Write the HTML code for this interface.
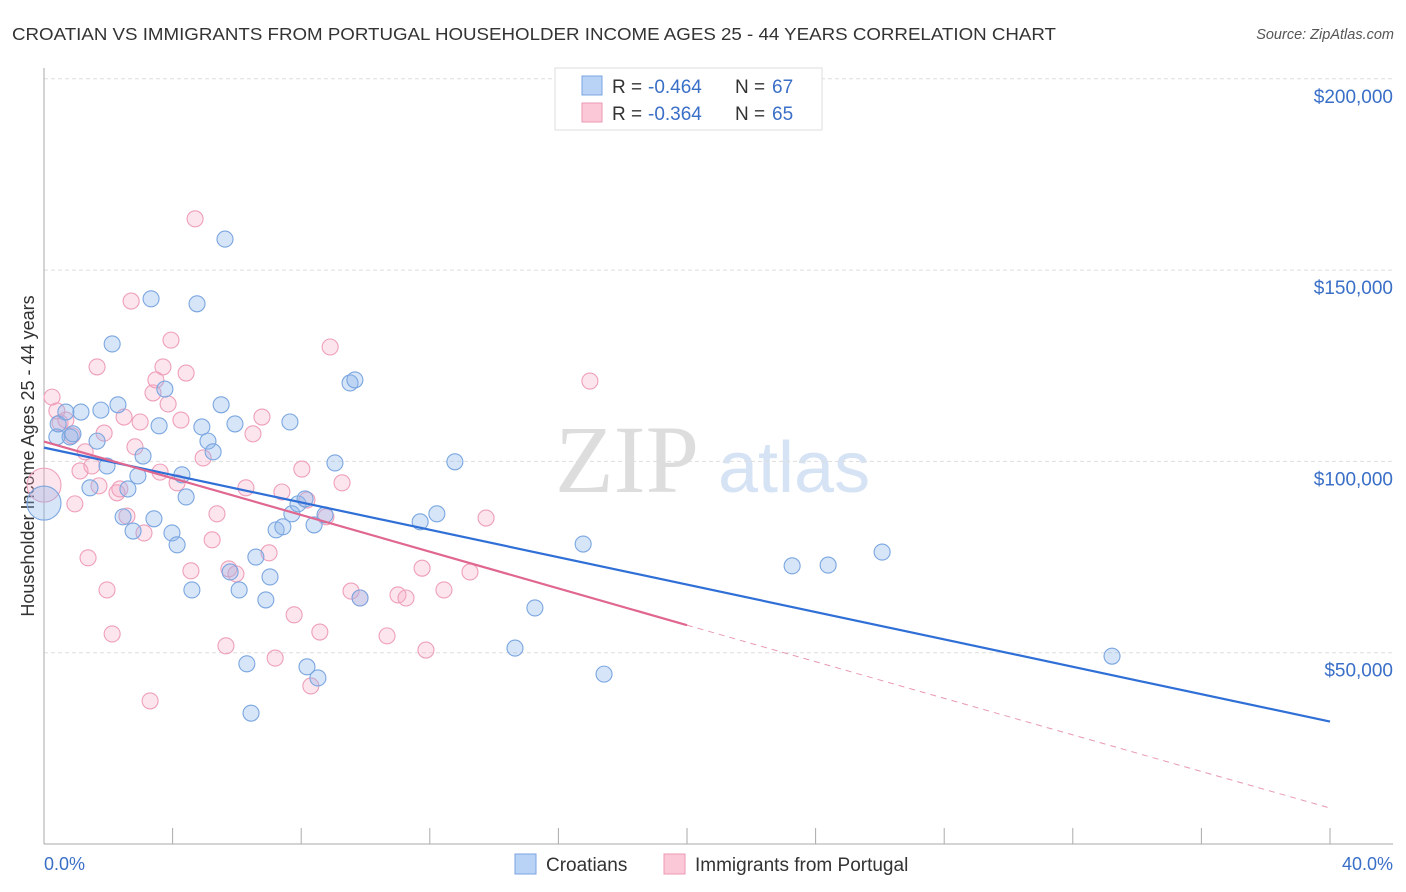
<!DOCTYPE html>
<html><head><meta charset="utf-8"><style>
body{margin:0;background:#fff;font-family:"Liberation Sans",sans-serif;}
svg{display:block}
</style></head><body>
<svg id="c" width="1406" height="892" xmlns="http://www.w3.org/2000/svg">
<text x="12" y="40" font-size="17.5" fill="#333" textLength="1044" lengthAdjust="spacingAndGlyphs">CROATIAN VS IMMIGRANTS FROM PORTUGAL HOUSEHOLDER INCOME AGES 25 - 44 YEARS CORRELATION CHART</text>
<text x="1394" y="39" font-size="14.5" fill="#555" font-style="italic" text-anchor="end">Source: ZipAtlas.com</text>
<text x="555" y="492" font-size="96" fill="#ddd" font-family="Liberation Serif">ZIP</text>
<text x="718" y="492" font-size="72" fill="#d5e3f5">atlas</text>
<text transform="translate(34,456) rotate(-90)" font-size="18" fill="#333" text-anchor="middle">Householder Income Ages 25 - 44 years</text>
<g id="grid"></g><g id="marks"></g>
<g>
<rect x="555" y="68" width="267" height="62" fill="#fff" stroke="#ddd"/>
<rect x="582" y="76" width="20" height="19" fill="#b8d3f5" stroke="#7aa6e0"/>
<rect x="582" y="103" width="20" height="19" fill="#fbc8d8" stroke="#ec9ab5"/>
<text x="612" y="93" font-size="19" fill="#333">R = </text><text x="648" y="93" font-size="19" fill="#3a6fc7">-0.464</text>
<text x="735" y="93" font-size="19" fill="#333">N = </text><text x="772" y="93" font-size="19" fill="#3a6fc7">67</text>
<text x="612" y="120" font-size="19" fill="#333">R = </text><text x="648" y="120" font-size="19" fill="#3a6fc7">-0.364</text>
<text x="735" y="120" font-size="19" fill="#333">N = </text><text x="772" y="120" font-size="19" fill="#3a6fc7">65</text>
</g>
<g>
<rect x="515" y="854" width="21" height="20" fill="#b8d3f5" stroke="#7aa6e0"/>
<text x="546" y="871" font-size="19" fill="#333">Croatians</text>
<rect x="664" y="854" width="21" height="20" fill="#fbc8d8" stroke="#ec9ab5"/>
<text x="695" y="871" font-size="19" fill="#333">Immigrants from Portugal</text>
</g>
<text x="44" y="870" font-size="18" fill="#3a6fc7">0.0%</text>
<text x="1393" y="870" font-size="18" fill="#3a6fc7" text-anchor="end">40.0%</text>
</svg>
<script>
const yTicks=[50000,100000,150000,200000];
const yTickLabels=["$50,000","$100,000","$150,000","$200,000"];
const blueX=[0,0.4,0.44,0.68,0.81,0.9,1.15,1.43,1.65,1.77,1.96,2.12,2.3,2.46,2.61,2.77,2.92,3.08,3.33,3.42,3.58,3.76,3.98,4.14,4.29,4.42,4.6,4.76,4.91,5.1,5.26,5.51,5.63,5.79,5.94,6.07,6.31,6.44,6.59,6.9,7.03,7.22,7.43,7.65,7.71,7.9,8.12,8.18,8.4,8.52,8.74,9.05,9.52,9.67,9.83,11.7,12.22,12.78,14.65,15.27,16.77,17.42,23.27,24.39,26.07,33.22];
const blueY=[89.1,106.4,109.8,112.9,106.4,107.2,112.9,93.1,105.3,113.4,98.8,130.7,114.8,85.5,92.8,81.8,96.2,101.4,142.5,85.0,109.3,118.9,81.3,78.2,96.5,90.7,66.4,141.2,109.0,105.3,102.5,114.8,158.1,71.1,109.8,66.4,47.1,34.2,75.0,63.8,69.8,82.1,82.9,110.3,86.3,88.9,90.2,46.3,83.4,43.4,86.0,99.6,120.5,121.3,64.3,84.2,86.3,99.9,51.2,61.7,78.4,44.4,72.7,72.9,76.3,49.1];
const pinkX=[0,0.25,0.4,0.5,0.68,0.87,0.96,1.12,1.28,1.37,1.49,1.65,1.71,1.87,1.96,2.12,2.27,2.36,2.49,2.58,2.71,2.83,2.99,3.11,3.3,3.39,3.48,3.61,3.7,3.86,3.95,4.14,4.26,4.42,4.57,4.7,4.95,5.23,5.38,5.66,5.75,5.97,6.28,6.5,6.78,7.0,7.19,7.4,7.78,8.02,8.18,8.3,8.58,8.77,8.9,9.27,9.55,9.83,10.67,11.01,11.26,11.76,11.88,12.44,13.25,13.75,16.98];
const pinkY=[93.8,116.8,113.2,110.1,110.8,106.7,88.9,97.5,102.5,74.8,98.8,124.7,93.6,107.4,66.4,54.9,91.8,92.8,111.6,85.7,141.9,103.8,110.3,81.3,37.4,117.9,121.3,97.2,124.7,115.0,131.7,94.4,110.8,123.1,71.4,163.4,100.9,79.5,86.3,51.8,71.9,70.6,93.1,107.2,111.6,76.1,48.6,92.0,59.9,98.0,89.9,41.3,55.4,85.5,129.9,94.4,66.1,64.3,54.4,65.1,64.3,72.1,50.7,66.4,71.1,85.2,121.0];
const blueTrend=[[0,103.6],[40,32.0]];
const pinkTrend=[[0,105.2],[20,57.2],[40,9.4]];
const X=v=>44+v*(1286/40), Y=v=>844-v*(191.3/50);
const NS="http://www.w3.org/2000/svg";
function mk(t,a,p){const e=document.createElementNS(NS,t);for(const k in a)e.setAttribute(k,a[k]);p.appendChild(e);return e;}
const g=document.getElementById('grid'),m=document.getElementById('marks');
yTicks.forEach((t,i)=>{const y=Y(t/1000);
const l=mk('line',{x1:44,x2:1393,y1:y,y2:y,stroke:'#ddd','stroke-dasharray':'4,3'},g);


const tx=mk('text',{x:1393,y:y+24,'font-size':19,fill:'#3a6fc7','text-anchor':'end'},g);tx.textContent=yTickLabels[i];

});
mk('line',{x1:44,x2:44,y1:68,y2:844,stroke:'#aaa'},g);
mk('line',{x1:44,x2:1393,y1:844,y2:844,stroke:'#aaa'},g);
for(let i=0;i<=10;i++){const x=X(i*4);const t=mk('line',{x1:x,x2:x,y1:828,y2:844,stroke:'#aaa'},g);

}
function dots(xs,ys,fill,stroke,name){xs.forEach((x,i)=>{const c=mk('circle',{cx:X(x),cy:Y(ys[i]),r:i==0?17:8,fill:fill,stroke:stroke,'stroke-width':1.1},m);

});}
dots(pinkX,pinkY,'rgba(248,170,196,0.3)','#ee9fba','portugal-point');
dots(blueX,blueY,'rgba(140,180,235,0.35)','#7aa6e0','croatian-point');
const bl=mk('line',{x1:X(blueTrend[0][0]),y1:Y(blueTrend[0][1]),x2:X(blueTrend[1][0]),y2:Y(blueTrend[1][1]),stroke:'#2f6fd6','stroke-width':2.2},m);


const pl=mk('line',{x1:X(pinkTrend[0][0]),y1:Y(pinkTrend[0][1]),x2:X(pinkTrend[1][0]),y2:Y(pinkTrend[1][1]),stroke:'#e0678f','stroke-width':2.2},m);


const pd=mk('line',{x1:X(pinkTrend[1][0]),y1:Y(pinkTrend[1][1]),x2:X(pinkTrend[2][0]),y2:Y(pinkTrend[2][1]),stroke:'#e899b3','stroke-width':1,'stroke-dasharray':'6,5'},m);


</script>
</body></html>
